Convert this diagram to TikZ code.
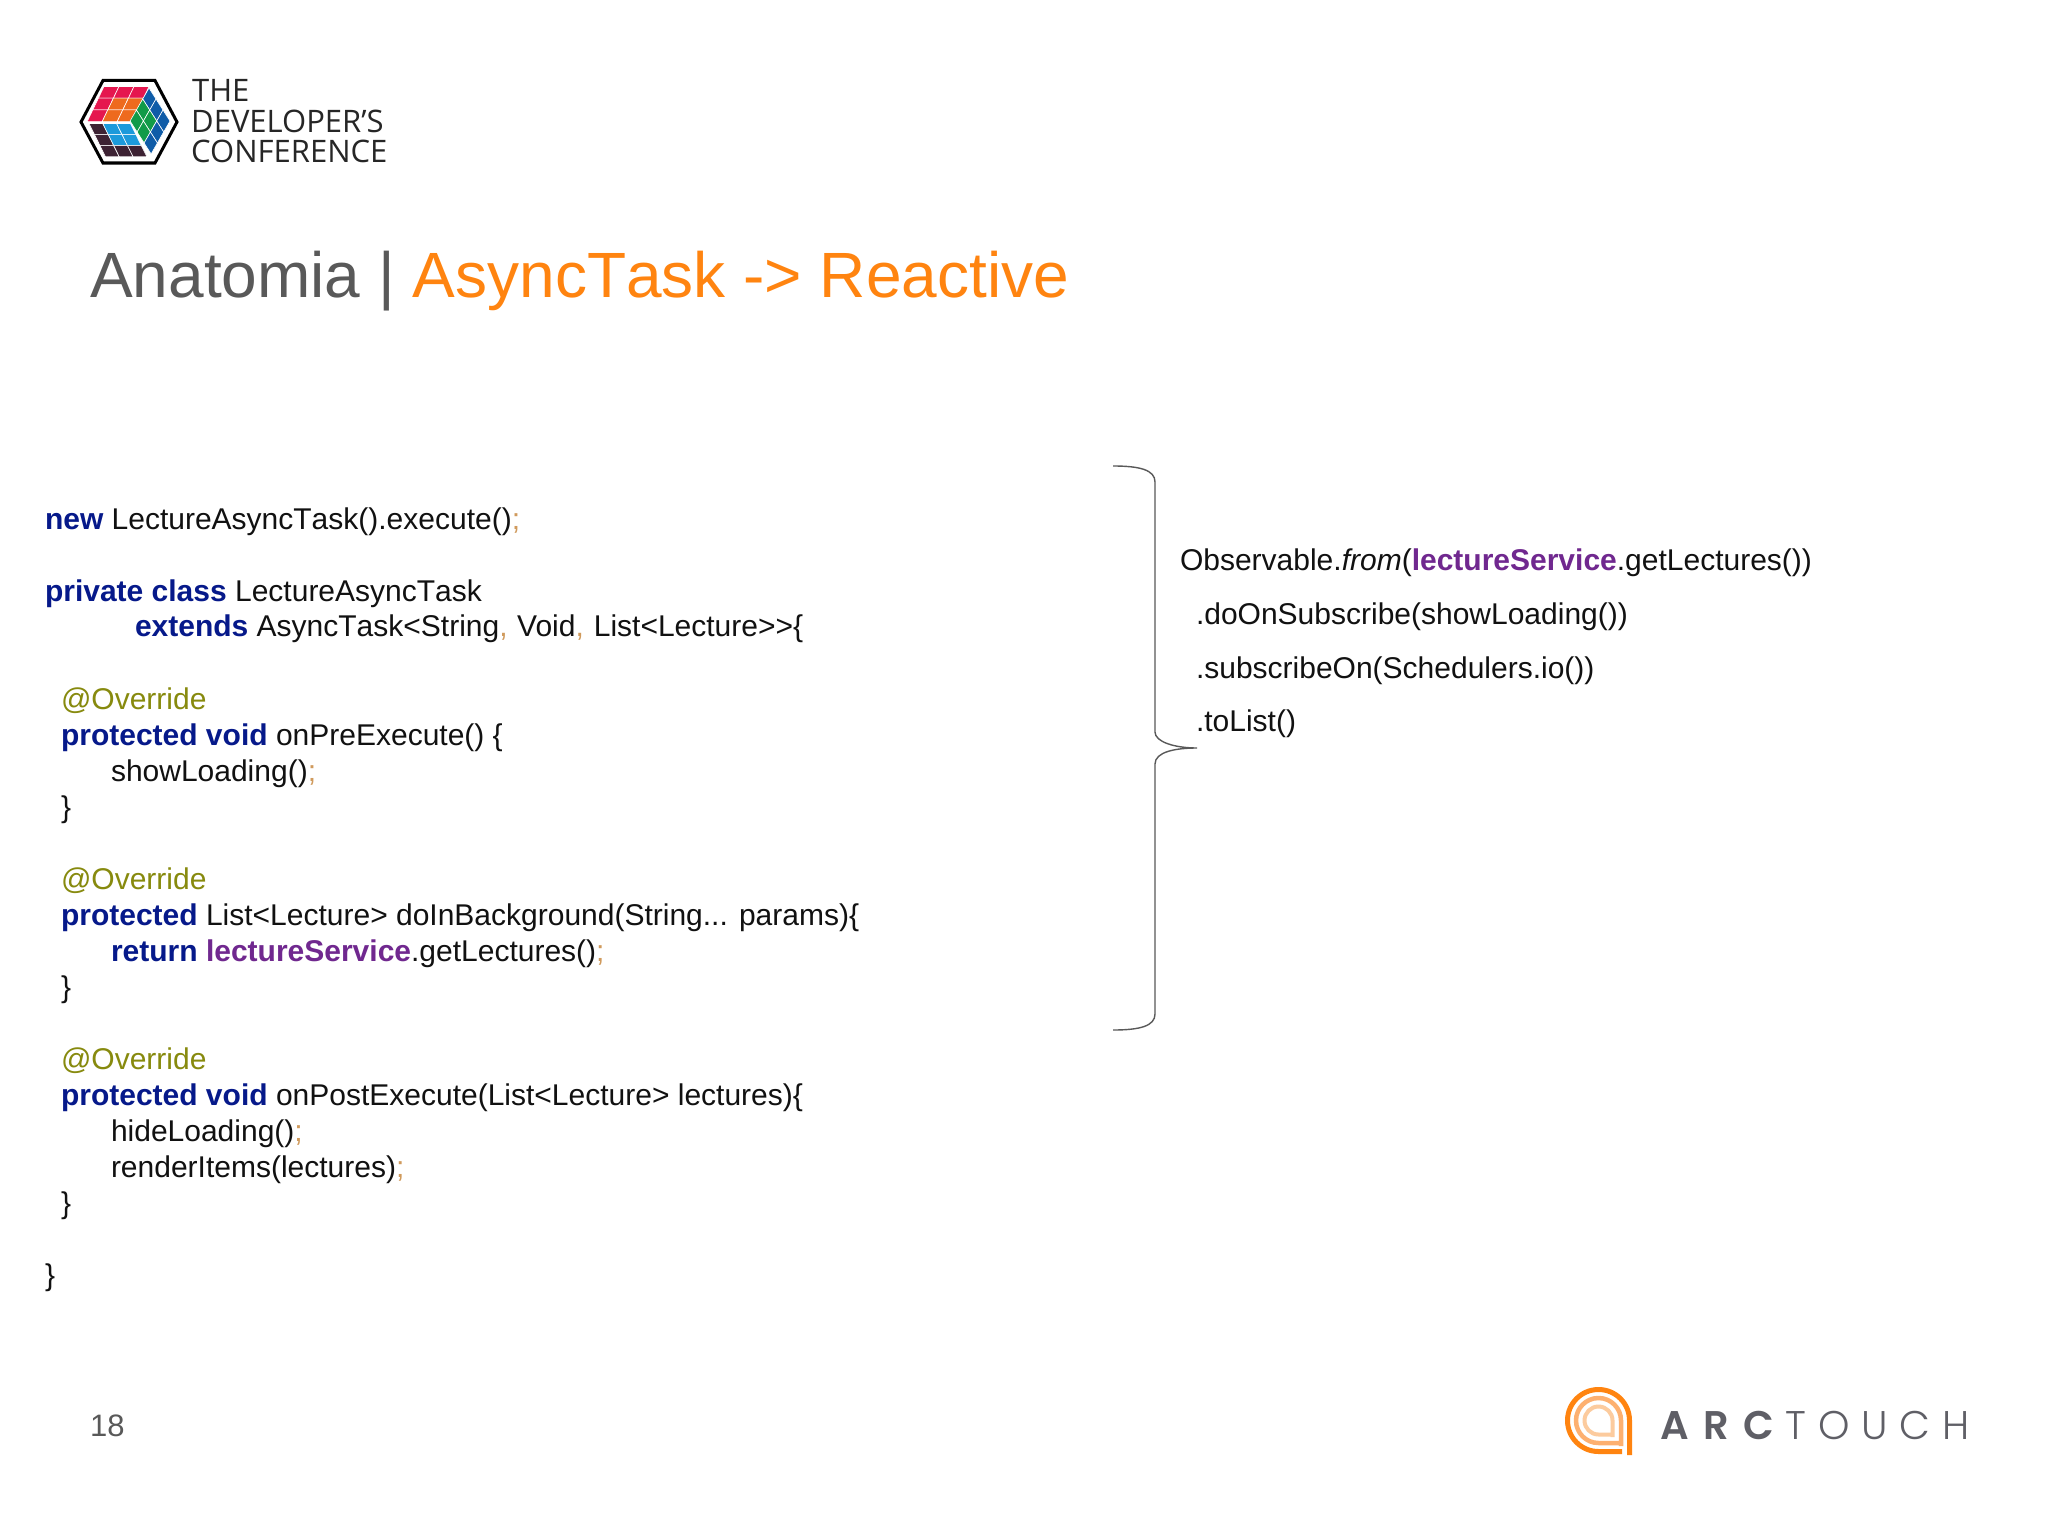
\documentclass[tikz,border=0pt]{standalone}
\usepackage{fontspec}
\setmainfont{Liberation Sans}
\newfontfamily\devfont{Open Sans}
\newfontfamily\arcbold{Poppins SemiBold}[LetterSpace=36]
\newfontfamily\arclight{Poppins Light}[LetterSpace=30]
\usetikzlibrary{calc}
\definecolor{kw}{HTML}{06198A}
\definecolor{svc}{HTML}{70288F}
\definecolor{semi}{HTML}{D09A5C}
\definecolor{ann}{HTML}{878A0E}
\definecolor{ink}{HTML}{111111}
\definecolor{slate}{HTML}{595959}
\definecolor{org}{HTML}{FF8410}
\definecolor{orgm}{HTML}{FDB070}
\definecolor{orgl}{HTML}{FCCB9E}
\definecolor{arcg}{HTML}{5F5F66}
\newcommand{\K}[1]{\textbf{\textcolor{kw}{#1}}}
\newcommand{\Sv}[1]{\textbf{\textcolor{svc}{#1}}}
\newcommand{\Sm}[1]{\textcolor{semi}{#1}}
\newcommand{\Tk}{T\kern0pt ask}
\tikzset{x=1pt,y=-1pt,
 code/.style={anchor=base west,inner sep=0pt,outer sep=0pt,text=ink,font=\fontsize{30}{36}\selectfont},
 ovr/.style={code,text=ann},
 devtxt/.style={anchor=base west,inner sep=0pt,text=black!85,font=\devfont\fontsize{31}{33}\selectfont},
 cell/.style={draw=white,line width=0.6pt}
}
\newcommand{\cellgrid}[4]{% origin, u, v, i/j/colour list
 \foreach \i/\j/\c in {#4}{
  \fill[\c,cell] ($(#1)+\i*(#2)+\j*(#3)$) -- ++(#2) -- ++(#3) -- ++($-1*(#2)$) -- cycle;
 }}
\definecolor{cred}{HTML}{E5174F}
\definecolor{corg}{HTML}{EE6A1E}
\definecolor{cblu}{HTML}{0F5CA8}
\definecolor{cgrn}{HTML}{119B48}
\definecolor{ccya}{HTML}{1C9ADB}
\definecolor{cdrk}{HTML}{3D2233}
\begin{document}
\begin{tikzpicture}
\useasboundingbox (0,0) rectangle (2048,1536);
\fill[white] (0,0) rectangle (2048,1536);
% conference logo
\draw[black,line width=3pt,line join=miter] (81,122) -- (103,80.5) -- (155,80.5) -- (177,122) -- (155,163) -- (103,163) -- cycle;
\cellgrid{104,86.5}{15,0}{-5.6,11.7}{
0/0/cred,1/0/cred,2/0/cred,0/1/cred,1/1/corg,2/1/corg,0/2/cred,1/2/corg,2/2/corg}
\cellgrid{149,88}{7,11}{-6.3,11}{
0/0/cblu,1/0/cblu,2/0/cblu,0/1/cgrn,1/1/cgrn,2/1/cblu,0/2/cgrn,1/2/cgrn,2/2/cblu}
\cellgrid{89,123.5}{13.8,0}{5.5,11.1}{
0/0/cdrk,1/0/ccya,2/0/ccya,0/1/cdrk,1/1/ccya,2/1/ccya,0/2/cdrk,1/2/cdrk,2/2/cdrk}
\node[devtxt] (dev1) at (192,102) {THE};
\node[devtxt] (dev2) at (191,132) {DEVELOPER’S};
\node[devtxt] (dev3) at (191,163) {CONFERENCE};
% title
\node[anchor=base west,inner sep=0pt,text=slate,font=\fontsize{64}{70}\selectfont] (title) at (90,297) {Anatomia | \textcolor{org}{Async\Tk{} -> Reactive}};
% code
\node[code] (l1) at (45,529) {\K{new} LectureAsync\Tk().execute()\Sm{;}};
\node[code] (l2) at (45,601) {\K{private class} LectureAsync\Tk};
\node[code] (l3) at (135,636.5) {\K{extends} Async\Tk<String\Sm{,}\kern1.2pt{} Void\Sm{,}\kern1.6pt{} List<Lecture>{}>\{};
\node[ovr] (l4) at (61,709) {@Override};
\node[code] (l5) at (61,745) {\K{protected void} onPreExecute() \{};
\node[code] (l6) at (111,781) {showLoading()\Sm{;}};
\node[code] (l7) at (61,817) {\}};
\node[ovr] (l8) at (61,889) {@Override};
\node[code] (l9) at (61,925) {\K{protected} List<Lecture> doInBackground(String... params)\{};
\node[code] (l10) at (111,961) {\K{return} \Sv{lectureService}.getLectures()\Sm{;}};
\node[code] (l11) at (61,997) {\}};
\node[ovr] (l12) at (61,1069) {@Override};
\node[code] (l13) at (61,1105) {\K{protected void} onPostExecute(List<Lecture> lectures)\{};
\node[code] (l14) at (111,1141) {hideLoading()\Sm{;}};
\node[code] (l15) at (111,1177) {renderItems(lectures)\Sm{;}};
\node[code] (l16) at (61,1213) {\}};
\node[code] (l17) at (45,1285) {\}};
% right code
\node[code] (r1) at (1180,570) {Observable.\textit{from}(\Sv{lectureService}.getLectures())};
\node[code] (r2) at (1196,624) {.doOnSubscribe(showLoading())};
\node[code] (r3) at (1196,678) {.subscribeOn(Schedulers.io())};
\node[code] (r4) at (1196,731.5) {.toList()};
% brace
\coordinate (bA) at (1113,466);
\coordinate (bB) at (1113,1030);
\coordinate (bT) at (1197,748);
\draw[slate,line width=1.4pt] (bA) .. controls (1140,466) and (1155,470) .. (1155,482) -- (1155,732)
 .. controls (1155,742) and (1175,748) .. (bT)
 .. controls (1175,748) and (1155,752) .. (1155,764) -- (1155,1014)
 .. controls (1155,1026) and (1140,1030) .. (bB);
% page number
\node[anchor=base west,inner sep=0pt,text=slate,font=\fontsize{31}{36}\selectfont] (pg) at (90,1436) {18};
% arctouch logo
\draw[org,line width=5pt] (1622,1451.5) -- (1598.5,1451.5) arc[start angle=270,end angle=0,radius=31pt] -- (1629.5,1455);
\draw[orgm,line width=4.5pt] (1619,1443) -- (1598.5,1443) arc[start angle=270,end angle=0,radius=22.5pt] -- (1621,1446);
\draw[orgl,line width=4pt] (1611,1434.5) -- (1598.5,1434.5) arc[start angle=270,end angle=0,radius=14pt] -- (1612.5,1437);
\node[anchor=base west,inner sep=0pt,text=arcg] (arc) at (1660,1439) {\arcbold\fontsize{40}{44}\selectfont ARC};
\node[anchor=base west,inner sep=0pt,text=arcg] (touch) at (1785,1439) {\arclight\fontsize{40}{44}\selectfont TOUCH};
\end{tikzpicture}
\end{document}
